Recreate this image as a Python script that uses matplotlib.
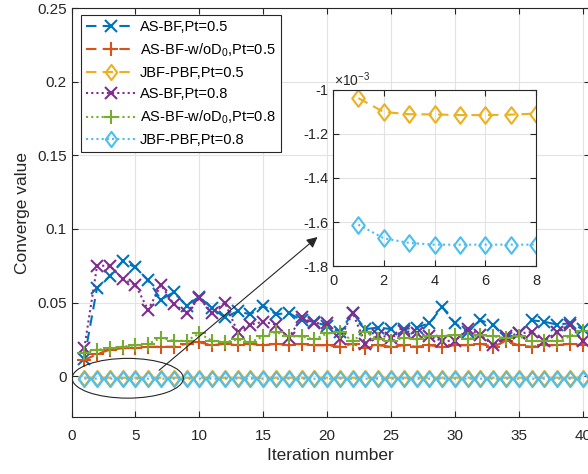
import matplotlib
matplotlib.use('Agg')
import matplotlib.pyplot as plt
from matplotlib.patches import Ellipse
from matplotlib.path import Path
from matplotlib.ticker import FuncFormatter

plt.rcParams['font.family'] = ['Liberation Sans', 'DejaVu Sans']
plt.rcParams['mathtext.fontset'] = 'custom'
plt.rcParams['mathtext.rm'] = 'Liberation Sans'
plt.rcParams['axes.unicode_minus'] = False

# ---------------- data ----------------
iterations = list(range(1, 41))

as_bf_05 = [0.012, 0.060, 0.068, 0.078, 0.074, 0.065, 0.052, 0.057, 0.048, 0.054,
            0.046, 0.040, 0.044, 0.042, 0.048, 0.042, 0.043, 0.038, 0.037, 0.034,
            0.030, 0.043, 0.032, 0.033, 0.032, 0.032, 0.033, 0.036, 0.047, 0.036,
            0.030, 0.038, 0.035, 0.026, 0.029, 0.038, 0.037, 0.035, 0.036, 0.032]

as_bf_wo_05 = [0.011, 0.015, 0.018, 0.019, 0.019, 0.020, 0.020, 0.020, 0.022, 0.023,
               0.021, 0.022, 0.021, 0.022, 0.021, 0.022, 0.021, 0.022, 0.021, 0.021,
               0.020, 0.022, 0.019, 0.021, 0.020, 0.021, 0.020, 0.021, 0.020, 0.021,
               0.021, 0.022, 0.020, 0.024, 0.021, 0.020, 0.021, 0.021, 0.022, 0.021]

jbf_pbf_05 = [-0.001037, -0.001100, -0.001110, -0.001111, -0.001114, -0.001114, -0.001112, -0.001107,
              -0.001108, -0.001108, -0.001108, -0.001108, -0.001108, -0.001108, -0.001108, -0.001108,
              -0.001108, -0.001108, -0.001108, -0.001108, -0.001108, -0.001108, -0.001108, -0.001108,
              -0.001108, -0.001108, -0.001108, -0.001108, -0.001108, -0.001108, -0.001108, -0.001108,
              -0.001108, -0.001108, -0.001108, -0.001108, -0.001108, -0.001108, -0.001108, -0.001108]

as_bf_08 = [0.019, 0.075, 0.075, 0.066, 0.062, 0.045, 0.062, 0.049, 0.043, 0.053,
            0.043, 0.050, 0.030, 0.035, 0.037, 0.035, 0.026, 0.040, 0.036, 0.036,
            0.025, 0.043, 0.022, 0.028, 0.026, 0.031, 0.029, 0.027, 0.024, 0.024,
            0.032, 0.028, 0.021, 0.027, 0.029, 0.030, 0.024, 0.030, 0.035, 0.024]

as_bf_wo_08 = [0.016, 0.018, 0.019, 0.020, 0.021, 0.022, 0.026, 0.024, 0.024, 0.029,
               0.024, 0.023, 0.025, 0.023, 0.027, 0.030, 0.027, 0.027, 0.025, 0.029,
               0.030, 0.024, 0.030, 0.025, 0.024, 0.026, 0.025, 0.027, 0.027, 0.028,
               0.025, 0.028, 0.027, 0.026, 0.027, 0.024, 0.024, 0.024, 0.027, 0.031]

jbf_pbf_08 = [-0.001612, -0.001674, -0.001695, -0.001703, -0.001703, -0.001703, -0.001703, -0.001703,
              -0.001703, -0.001703, -0.001703, -0.001703, -0.001703, -0.001703, -0.001703, -0.001703,
              -0.001703, -0.001703, -0.001703, -0.001703, -0.001703, -0.001703, -0.001703, -0.001703,
              -0.001703, -0.001703, -0.001703, -0.001703, -0.001703, -0.001703, -0.001703, -0.001703,
              -0.001703, -0.001703, -0.001703, -0.001703, -0.001703, -0.001703, -0.001703, -0.001703]

labels = ['AS-BF,Pt=0.5', r'AS-BF-w/oD$\mathregular{_0}$,Pt=0.5', 'JBF-PBF,Pt=0.5',
          'AS-BF,Pt=0.8', r'AS-BF-w/oD$\mathregular{_0}$,Pt=0.8', 'JBF-PBF,Pt=0.8']

xticks = [0, 5, 10, 15, 20, 25, 30, 35, 40]
yticks = [0, 0.05, 0.1, 0.15, 0.2, 0.25]
inset_xticks = [0, 2, 4, 6, 8]
inset_yticks = [-0.0018, -0.0016, -0.0014, -0.0012, -0.0010]
n_zoom = 8

# ---------------- style ----------------
C_BLUE = '#0072BD'
C_ORANGE = '#D95319'
C_YELLOW = '#EDB120'
C_PURPLE = '#7E2F8E'
C_GREEN = '#77AC30'
C_CYAN = '#4DBEEE'
AX_COLOR = '#262626'
GRID_COLOR = '#E3E3E3'

diamond = Path([(0, 1), (0.75, 0), (0, -1), (-0.75, 0), (0, 1)],
               [Path.MOVETO, Path.LINETO, Path.LINETO, Path.LINETO, Path.CLOSEPOLY])

series = [
    (as_bf_05, C_BLUE, (0, (5, 3)), 'x', 8),
    (as_bf_wo_05, C_ORANGE, (0, (5, 3)), '+', 10.5),
    (jbf_pbf_05, C_YELLOW, (0, (5, 3)), diamond, 11),
    (as_bf_08, C_PURPLE, (0, (1, 1.5)), 'x', 8),
    (as_bf_wo_08, C_GREEN, (0, (1, 1.5)), '+', 10.5),
    (jbf_pbf_08, C_CYAN, (0, (1, 1.5)), diamond, 11),
]

W, H = 588, 474
fig = plt.figure(figsize=(W / 100, H / 100), dpi=100)

ax_left, ax_right, ax_top, ax_bot = 71.5, 590, 8, 417
ax = fig.add_axes([ax_left / W, (H - ax_bot) / H, (ax_right - ax_left) / W, (ax_bot - ax_top) / H])

for (vals, col, ls, mk, ms), lab in zip(series, labels):
    ax.plot(iterations, vals, color=col, linestyle=ls, linewidth=1.5,
            marker=mk, markersize=ms, markeredgewidth=1.5, markerfacecolor='none',
            label=lab)

ax.set_xlim(0, (ax_right - ax_left) / 12.78)
ax.set_ylim(-0.0277, 0.25)
ax.set_xticks(xticks)
ax.set_yticks(yticks)
ax.yaxis.set_major_formatter(FuncFormatter(lambda v, p: '%g' % round(v, 4)))
ax.grid(True, color=GRID_COLOR, linewidth=0.8)
ax.set_axisbelow(True)
for s in ax.spines.values():
    s.set_color(AX_COLOR)
    s.set_linewidth(0.8)
ax.tick_params(direction='in', length=4, width=0.8, colors=AX_COLOR, labelsize=11,
               top=True, right=True)
ax.tick_params(axis='x', pad=9)
ax.tick_params(axis='y', pad=3.5)
ax.set_xlabel('Iteration number', fontsize=12.5, color=AX_COLOR, labelpad=3)
ax.set_ylabel('Converge value', fontsize=12.5, color=AX_COLOR, labelpad=5)

axw = ax_right - ax_left
axh = ax_bot - ax_top
leg = ax.legend(loc='upper left', bbox_to_anchor=(9.5 / axw, 1 - 7 / axh), borderaxespad=0,
                fontsize=10.5, handlelength=3.4, handletextpad=0.3, labelspacing=0.5,
                borderpad=0.35, fancybox=False, framealpha=1, edgecolor=AX_COLOR)
leg.get_frame().set_linewidth(0.8)

# ellipse + arrow
ax.add_patch(Ellipse((4.4, -0.0014), 8.7, 0.027, fill=False, edgecolor='#262626', linewidth=0.8, zorder=5))
ax.annotate('', xy=(19.25, 0.0945), xytext=(6.85, 0.004),
            arrowprops=dict(arrowstyle='-|>', color='#262626', lw=0.8,
                            mutation_scale=16, shrinkA=0, shrinkB=0), zorder=6)

# inset
in_l, in_r, in_t, in_b = 333, 536, 90, 266
axi = fig.add_axes([in_l / W, (H - in_b) / H, (in_r - in_l) / W, (in_b - in_t) / H])
for idx in (2, 5):
    vals, col, ls, mk, ms = series[idx]
    axi.plot(iterations[:n_zoom], vals[:n_zoom], color=col, linestyle=ls, linewidth=1.5,
             marker=mk, markersize=12, markeredgewidth=1.5, markerfacecolor='none')
axi.set_xlim(0, 8)
axi.set_ylim(-0.0018, -0.0010)
axi.set_xticks(inset_xticks)
axi.set_yticks(inset_yticks)
axi.yaxis.set_major_formatter(FuncFormatter(lambda v, p: '%g' % round(v * 1e3, 4)))
axi.grid(True, color=GRID_COLOR, linewidth=0.8)
axi.set_axisbelow(True)
for s in axi.spines.values():
    s.set_color(AX_COLOR)
    s.set_linewidth(0.8)
axi.tick_params(direction='in', length=4, width=0.8, colors=AX_COLOR, labelsize=10.5,
                top=True, right=True)
axi.tick_params(axis='x', pad=6)
axi.tick_params(axis='y', pad=3)
axi.text(0.005, 1.005, '×10$^{\\mathregular{-3}}$', transform=axi.transAxes,
         ha='left', va='bottom', fontsize=10, color=AX_COLOR)

fig.savefig('out.png', dpi=100)
